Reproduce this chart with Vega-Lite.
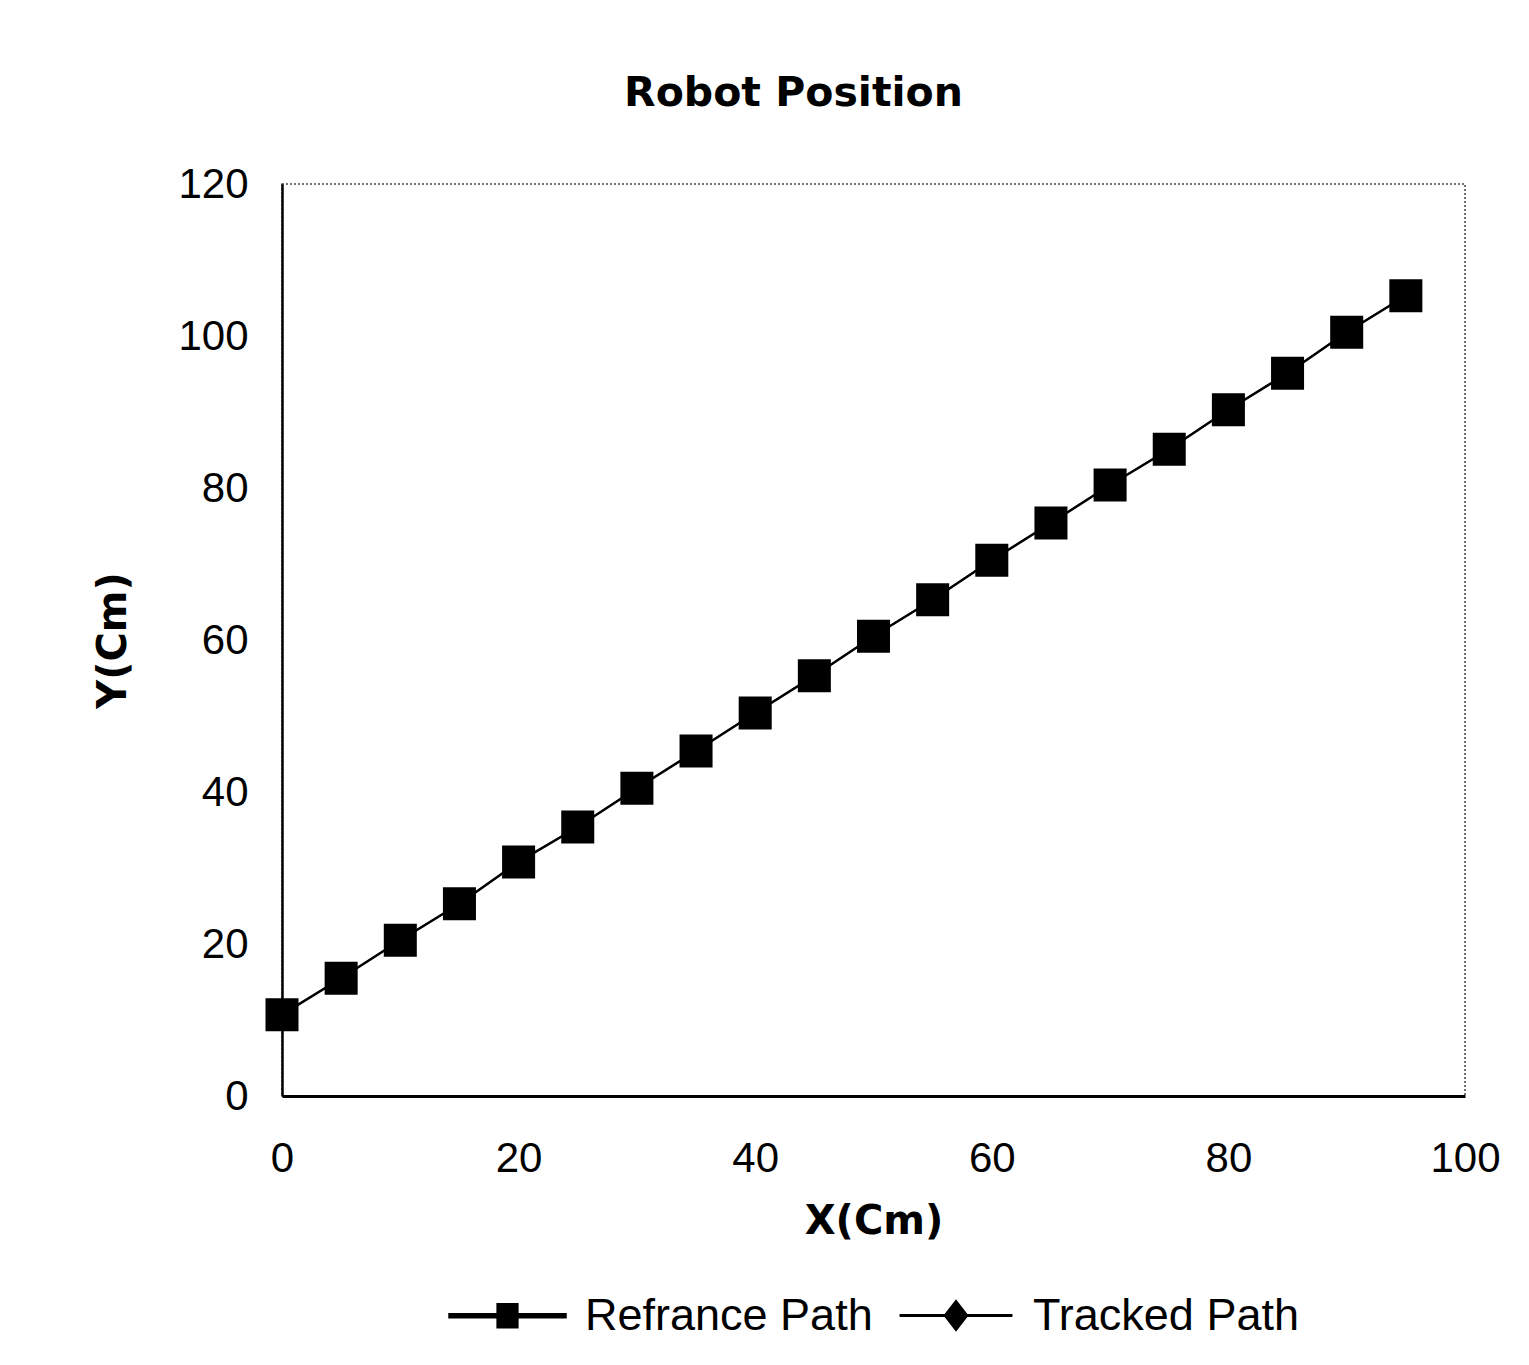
{
  "$schema": "https://vega.github.io/schema/vega-lite/v6.json",
  "autosize": {"type": "none"},
  "width": 1183,
  "height": 912,
  "padding": {"left": 282, "top": 184, "right": 64, "bottom": 269},
  "background": "white",
  "title": {
    "text": "Robot Position",
    "font": "DejaVu Sans",
    "fontSize": 41,
    "fontWeight": "bold",
    "color": "black",
    "baseline": "alphabetic",
    "offset": 16,
    "dx": -80
  },
  "data": {
    "values": [
      {"x": 0, "y": 10.7, "series": "Tracked Path"},
      {"x": 5, "y": 15.5, "series": "Tracked Path"},
      {"x": 10, "y": 20.5, "series": "Tracked Path"},
      {"x": 15, "y": 25.3, "series": "Tracked Path"},
      {"x": 20, "y": 30.8, "series": "Tracked Path"},
      {"x": 25, "y": 35.4, "series": "Tracked Path"},
      {"x": 30, "y": 40.5, "series": "Tracked Path"},
      {"x": 35, "y": 45.4, "series": "Tracked Path"},
      {"x": 40, "y": 50.4, "series": "Tracked Path"},
      {"x": 45, "y": 55.3, "series": "Tracked Path"},
      {"x": 50, "y": 60.5, "series": "Tracked Path"},
      {"x": 55, "y": 65.3, "series": "Tracked Path"},
      {"x": 60, "y": 70.5, "series": "Tracked Path"},
      {"x": 65, "y": 75.4, "series": "Tracked Path"},
      {"x": 70, "y": 80.4, "series": "Tracked Path"},
      {"x": 75, "y": 85.1, "series": "Tracked Path"},
      {"x": 80, "y": 90.3, "series": "Tracked Path"},
      {"x": 85, "y": 95.1, "series": "Tracked Path"},
      {"x": 90, "y": 100.5, "series": "Tracked Path"},
      {"x": 95, "y": 105.3, "series": "Tracked Path"},
      {"x": 0, "y": 10.7, "series": "Refrance Path"},
      {"x": 5, "y": 15.5, "series": "Refrance Path"},
      {"x": 10, "y": 20.5, "series": "Refrance Path"},
      {"x": 15, "y": 25.3, "series": "Refrance Path"},
      {"x": 20, "y": 30.8, "series": "Refrance Path"},
      {"x": 25, "y": 35.4, "series": "Refrance Path"},
      {"x": 30, "y": 40.5, "series": "Refrance Path"},
      {"x": 35, "y": 45.4, "series": "Refrance Path"},
      {"x": 40, "y": 50.4, "series": "Refrance Path"},
      {"x": 45, "y": 55.3, "series": "Refrance Path"},
      {"x": 50, "y": 60.5, "series": "Refrance Path"},
      {"x": 55, "y": 65.3, "series": "Refrance Path"},
      {"x": 60, "y": 70.5, "series": "Refrance Path"},
      {"x": 65, "y": 75.4, "series": "Refrance Path"},
      {"x": 70, "y": 80.4, "series": "Refrance Path"},
      {"x": 75, "y": 85.1, "series": "Refrance Path"},
      {"x": 80, "y": 90.3, "series": "Refrance Path"},
      {"x": 85, "y": 95.1, "series": "Refrance Path"},
      {"x": 90, "y": 100.5, "series": "Refrance Path"},
      {"x": 95, "y": 105.3, "series": "Refrance Path"}
    ]
  },
  "encoding": {
    "x": {
      "field": "x",
      "type": "quantitative",
      "scale": {"domain": [0, 100], "nice": false, "zero": false},
      "axis": {
        "title": "X(Cm)",
        "values": [0, 20, 40, 60, 80, 100],
        "grid": false,
        "ticks": false,
        "labelPadding": 42,
        "labelFont": "Liberation Sans",
        "labelFontSize": 42,
        "labelColor": "black",
        "labelFlush": false,
        "labelOverlap": false,
        "domainColor": "black",
        "domainWidth": 3,
        "titleFont": "DejaVu Sans",
        "titleFontSize": 40,
        "titleFontWeight": "bold",
        "titleColor": "black",
        "titlePadding": 22
      }
    },
    "y": {
      "field": "y",
      "type": "quantitative",
      "scale": {"domain": [0, 120], "nice": false, "zero": false},
      "axis": {
        "title": "Y(Cm)",
        "values": [0, 20, 40, 60, 80, 100, 120],
        "grid": false,
        "ticks": false,
        "labelPadding": 34,
        "labelFont": "Liberation Sans",
        "labelFontSize": 42,
        "labelColor": "black",
        "labelFlush": false,
        "labelOverlap": false,
        "domainColor": "black",
        "domainWidth": 2.5,
        "titleFont": "DejaVu Sans",
        "titleFontSize": 40,
        "titleFontWeight": "bold",
        "titleColor": "black",
        "titlePadding": 44
      }
    }
  },
  "layer": [
    {
      "mark": {"type": "line", "interpolate": "linear"},
      "encoding": {
        "color": {
          "field": "series",
          "type": "nominal",
          "scale": {"domain": ["Refrance Path", "Tracked Path"], "range": ["black", "black"]},
          "legend": {
            "title": null,
            "orient": "bottom",
            "direction": "horizontal",
            "offset": 15,
            "labelFont": "Liberation Sans",
            "labelFontSize": 45,
            "labelColor": "black",
            "labelLimit": 600,
            "labelOffset": 18,
            "columnPadding": 24,
            "symbolSize": 13456,
            "encode": {
              "symbols": {
                "update": {
                  "shape": {"signal": "datum.value === 'Refrance Path' ? 'M-1,-0.026H1V0.026H-1Z M-0.17,-0.2H0.17V0.2H-0.17Z' : 'M-0.96,-0.013H0.96V0.013H-0.96Z M0,-0.26L0.2,0L0,0.26L-0.2,0Z'"},
                  "fill": {"value": "black"},
                  "stroke": {"value": "transparent"},
                  "strokeWidth": {"value": 0},
                  "opacity": {"value": 1}
                }
              }
            }
          }
        },
        "strokeWidth": {
          "field": "series",
          "type": "nominal",
          "scale": {"domain": ["Refrance Path", "Tracked Path"], "range": [2.5, 1.5]},
          "legend": null
        }
      }
    },
    {
      "transform": [{"filter": "datum.series === 'Tracked Path'"}],
      "mark": {"type": "point", "filled": true, "opacity": 1, "color": "black", "shape": "diamond", "size": 450}
    },
    {
      "transform": [{"filter": "datum.series === 'Refrance Path'"}],
      "mark": {"type": "point", "filled": true, "opacity": 1, "color": "black", "shape": "square", "size": 1090}
    }
  ],
  "config": {
    "view": {"stroke": "#444", "strokeWidth": 1.5, "strokeDash": [2, 2]},
    "legend": {"layout": {"bottom": {"anchor": "middle"}}}
  }
}
